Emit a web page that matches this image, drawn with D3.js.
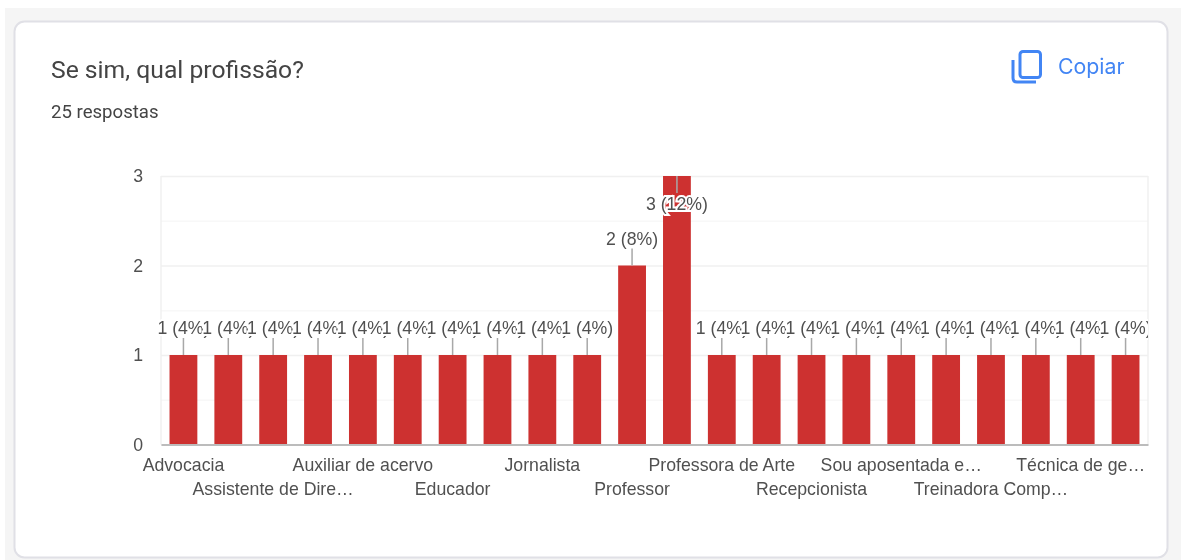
<!DOCTYPE html>
<html>
<head>
<meta charset="utf-8">
<script src="https://cdn.jsdelivr.net/npm/d3@7"></script>
<style>
    html, body { margin: 0; padding: 0; background: #fff; }
    svg { display: block; filter: blur(0.45px); }
    .axis-label { font-family: "Liberation Sans", Arial, sans-serif; font-size: 17.7px; fill: #505050; }
    .bar-label { font-family: "Liberation Sans", Arial, sans-serif; font-size: 17.7px; fill: #505050; }
</style>
</head>
<body>
<div id="chart"></div>
<script>
// empty entries are the categories the chart skipped on the axis
const axisLabels = [
    'Advocacia', '', 'Assistente de Dire…', '', 'Auxiliar de acervo', '',
    'Educador', '', 'Jornalista', '', 'Professor', '',
    'Professora de Arte', '', 'Recepcionista', '', 'Sou aposentada e…', '',
    'Treinadora Comp…', '', 'Técnica de ge…', ''
]
const values = [1, 1, 1, 1, 1, 1, 1, 1, 1, 1, 2, 3, 1, 1, 1, 1, 1, 1, 1, 1, 1, 1]
const yTicks = [0, 1, 2, 3]
const yMinorTicks = [0.5, 1.5, 2.5]
const totalAnswers = 25

const w = 1181
const h = 560
const plot = { left: 161, right: 1148, top: 176, bottom: 444.5 }

const colours = {
    page: '#f5f5f5',
    border: '#e0e0e6',
    bar: '#cd3130',
    grid: '#f0f0f0',
    minor: '#f8f8f8',
    base: '#bcbcbc',
    leader: '#a8a8a8',
    blue: '#4285f4'
}

const svg = d3.select('#chart')
    .append('svg')
    .attr('width', w)
    .attr('height', h)
    .attr('viewBox', '0 0 ' + w + ' ' + h)

// page and card
svg.append('rect').attr('x', 5).attr('y', 8).attr('width', w - 5).attr('height', h - 8).attr('fill', colours.page)
svg.append('rect')
    .attr('x', 14.5).attr('y', 21.5)
    .attr('width', 1153).attr('height', 536)
    .attr('rx', 10)
    .attr('fill', '#fff')
    .attr('stroke', colours.border)
    .attr('stroke-width', 2)

// header
svg.append('text')
    .attr('x', 51).attr('y', 78)
    .attr('font-family', 'Roboto, sans-serif')
    .attr('font-size', 24.7)
    .attr('fill', '#444')
    .text('Se sim, qual profissão?')

svg.append('text')
    .attr('x', 51).attr('y', 118)
    .attr('font-family', 'Roboto, sans-serif')
    .attr('font-size', 18.6)
    .attr('fill', '#444')
    .text(totalAnswers + ' respostas')

const icon = svg.append('g')
    .attr('fill', 'none')
    .attr('stroke', colours.blue)
    .attr('stroke-width', 3)
icon.append('rect').attr('x', 1020).attr('y', 51.5).attr('width', 20.5).attr('height', 26).attr('rx', 3)
icon.append('path').attr('d', 'M1013 60 V78 Q1013 82 1017 82 H1036')

svg.append('text')
    .attr('x', 1058).attr('y', 74)
    .attr('font-family', 'Inter, Roboto, sans-serif')
    .attr('font-size', 21.3)
    .attr('fill', colours.blue)
    .text('Copiar')

// scales
const xScale = d3.scaleBand()
    .domain(d3.range(values.length))
    .range([plot.left, plot.right])
    .paddingInner(0.38)
    .paddingOuter(0.19)

const yScale = d3.scaleLinear()
    .domain([0, 3])
    .range([plot.bottom, plot.top])

// grid
svg.append('g')
    .attr('transform', 'translate(' + plot.left + ',0)')
    .call(d3.axisLeft(yScale).tickValues(yMinorTicks).tickSize(-(plot.right - plot.left)).tickFormat(''))
    .call(g => g.select('.domain').remove())
    .call(g => g.selectAll('line').attr('stroke', colours.minor).attr('stroke-width', 1.5))

const yAxis = svg.append('g')
    .attr('transform', 'translate(' + plot.left + ',0)')
    .call(d3.axisLeft(yScale).tickValues(yTicks).tickSize(-(plot.right - plot.left)).tickPadding(18).tickFormat(d3.format('d')))
    .call(g => g.select('.domain').remove())
    .call(g => g.selectAll('line').attr('stroke', colours.grid).attr('stroke-width', 1.5))
yAxis.selectAll('text').attr('class', 'axis-label').attr('fill', null)

svg.append('line')
    .attr('x1', plot.left).attr('x2', plot.left)
    .attr('y1', plot.top).attr('y2', plot.bottom)
    .attr('stroke', colours.grid).attr('stroke-width', 1.5)
svg.append('line')
    .attr('x1', plot.right).attr('x2', plot.right)
    .attr('y1', plot.top).attr('y2', plot.bottom)
    .attr('stroke', colours.grid).attr('stroke-width', 1.5)

// bars
svg.append('g')
    .selectAll('rect')
    .data(values)
    .join('rect')
    .attr('x', (d, i) => xScale(i))
    .attr('y', d => yScale(d))
    .attr('width', xScale.bandwidth())
    .attr('height', d => yScale(0) - yScale(d))
    .attr('fill', colours.bar)

// baseline and category labels, staggered on two rows
const xAxis = svg.append('g')
    .attr('transform', 'translate(0,' + plot.bottom + ')')
    .call(d3.axisBottom(xScale).tickSize(0).tickPadding(0).tickFormat(i => axisLabels[i]))
xAxis.select('.domain').attr('stroke', colours.base).attr('stroke-width', 2)
xAxis.selectAll('text')
    .attr('class', 'axis-label')
    .attr('fill', null)
    .attr('y', 0)
    .attr('dy', null)
    .attr('transform', (d, i) => 'translate(0,' + (i % 4 === 2 ? 50 : 26) + ')')

// value labels, later ones paint over the end of the earlier ones
const clip = svg.append('clipPath').attr('id', 'label-clip')
clip.append('rect').attr('x', plot.left - 3).attr('y', plot.top).attr('width', plot.right - plot.left + 3).attr('height', plot.bottom - plot.top)

const labels = svg.append('g').attr('clip-path', 'url(#label-clip)')
const leaderLength = 17
const isTop = d => d === d3.max(values)
const centre = i => xScale(i) + xScale.bandwidth() / 2

labels.selectAll('line')
    .data(values)
    .join('line')
    .attr('x1', (d, i) => centre(i))
    .attr('x2', (d, i) => centre(i))
    .attr('y1', d => yScale(d))
    .attr('y2', d => isTop(d) ? yScale(d) + leaderLength : yScale(d) - leaderLength)
    .attr('stroke', colours.leader)
    .attr('stroke-width', 1.5)

labels.selectAll('text')
    .data(values)
    .join('text')
    .attr('class', 'bar-label')
    .attr('x', (d, i) => centre(i))
    .attr('y', d => isTop(d) ? yScale(d) + 34 : yScale(d) - 21)
    .attr('text-anchor', 'middle')
    .attr('stroke', '#fff')
    .attr('stroke-width', 4)
    .attr('paint-order', 'stroke')
    .text(d => d + ' (' + d3.format('.0f')(d / totalAnswers * 100) + '%)')
</script>
</body>
</html>
